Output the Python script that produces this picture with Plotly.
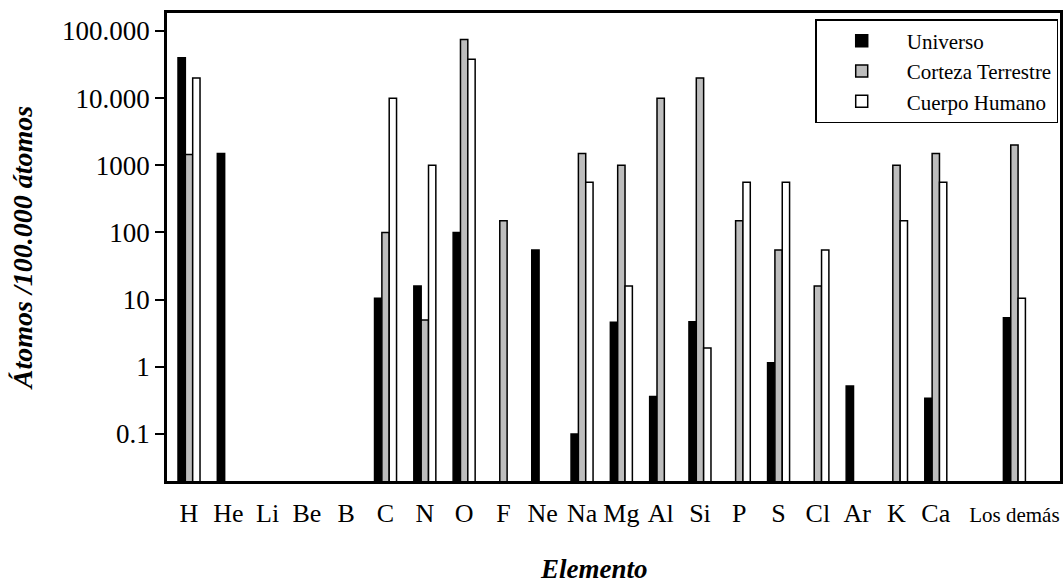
import plotly.graph_objects as go

elementos = ["H", "He", "Li", "Be", "B", "C", "N", "O", "F", "Ne", "Na", "Mg",
             "Al", "Si", "P", "S", "Cl", "Ar", "K", "Ca", "Los demás"]
universo = [40000, 1500, None, None, None, 10.5, 16, 100, None, 55, 0.1, 4.6,
            0.36, 4.7, None, 1.15, None, 0.52, None, 0.34, 5.4]
corteza = [1450, None, None, None, None, 100, 5, 75000, 150, None, 1500, 1000,
           10000, 20000, 150, 55, 16, None, 1000, 1500, 2000]
humano = [20000, None, None, None, None, 10000, 1000, 38000, None, None, 560, 16,
          None, 1.9, 560, 560, 55, None, 150, 560, 10.5]

tick_vals = [0.1, 1, 10, 100, 1000, 10000, 100000]
tick_text = ["0.1", "1", "10", "100", "1000", "10.000", "100.000"]
x_text = [e if e != "Los demás" else "<span style='font-size:21px'>Los demás</span>" for e in elementos]

# axis category order: an empty slot separates "Los demás" from the elements, as in the original
category_order = elementos[:-1] + [" "] + elementos[-1:]

FONT = "Liberation Serif, Times New Roman, serif"

fig = go.Figure()
fig.add_trace(go.Bar(name="Universo", x=elementos, y=universo,
                     marker=dict(color="#000000", line=dict(color="#000000", width=1.5))))
fig.add_trace(go.Bar(name="Corteza Terrestre", x=elementos, y=corteza,
                     marker=dict(color="#bdbdbd", line=dict(color="#000000", width=1.5))))
fig.add_trace(go.Bar(name="Cuerpo Humano", x=elementos, y=humano,
                     marker=dict(color="#ffffff", line=dict(color="#000000", width=1.5))))

fig.update_layout(
    width=1064, height=586,
    margin=dict(l=167, r=4, t=13, b=105),
    paper_bgcolor="white", plot_bgcolor="white",
    font=dict(family=FONT, size=26, color="black"),
    barmode="group", bargap=0.44, bargroupgap=0,
    showlegend=True,
    legend=dict(x=0.998, y=0.987, xanchor="right", yanchor="top",
                bgcolor="white", bordercolor="black", borderwidth=1.5,
                font=dict(family=FONT, size=21), traceorder="normal",
                itemwidth=80),
    annotations=[dict(text="<b><i>Elemento</i></b>", xref="paper", yref="paper",
                      x=0.478, y=-0.2244, xanchor="center", yanchor="bottom",
                      showarrow=False, font=dict(family=FONT, size=27))],
)
fig.update_xaxes(
    type="category", categoryorder="array", categoryarray=category_order,
    tickvals=elementos, ticktext=x_text, tickangle=0,
    range=[-0.56, 22.16],
    automargin=False, tickfont=dict(family=FONT, size=26),
    showline=True, linecolor="black", linewidth=2.5, mirror=True,
    ticks="", ticklabelstandoff=7, showgrid=False,
)
fig.update_yaxes(
    type="log", range=[-1.70, 5.268], automargin=False,
    tickvals=tick_vals, ticktext=tick_text, tickfont=dict(family=FONT, size=27),
    showline=True, linecolor="black", linewidth=2.5, mirror=True,
    ticks="outside", ticklen=9, tickwidth=2, tickcolor="black",
    showgrid=False, zeroline=False,
    title=dict(text="<b><i>Átomos /100.000 átomos</i></b>", font=dict(family=FONT, size=28), standoff=22),
)

fig.write_html("out.html", config={"displayModeBar": False},
               post_script="document.body.style.margin='0';")
